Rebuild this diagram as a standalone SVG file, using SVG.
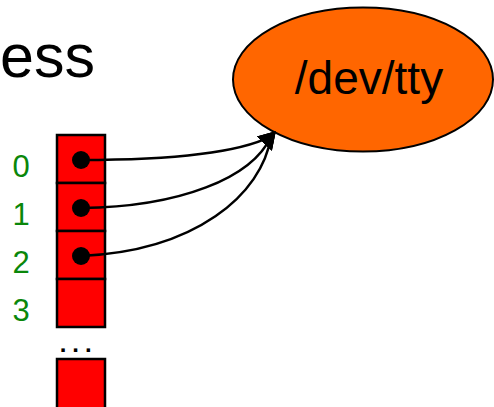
<svg xmlns="http://www.w3.org/2000/svg" width="494" height="407" viewBox="0 0 494 407">
<defs>
<style>
.txt{font-family:"Liberation Sans",Arial,sans-serif;}
.cell{fill:#FF0000;stroke:#000;stroke-width:2.5;}
.dot{fill:#000;}
.idx{font-family:"Liberation Sans",Arial,sans-serif;font-size:31px;fill:#0A870A;text-anchor:middle;}
.conn{fill:none;stroke:#000;stroke-width:2.5;}
</style>
<marker id="ah" viewBox="0 0 17 21" refX="10" refY="10.5" markerWidth="17" markerHeight="21" markerUnits="userSpaceOnUse" orient="-47">
<path d="M0,0 L17,10.5 L0,21 z" fill="#000"/>
</marker>
</defs>
<rect width="494" height="407" fill="#fff"/>
<g id="title"><text class="txt" x="0" y="77" font-size="61">ess</text></g>
<g id="tty">
<ellipse cx="363" cy="79.5" rx="130" ry="72" fill="#FF6600" stroke="#000" stroke-width="2"/>
<text class="txt" x="369" y="94" font-size="46" text-anchor="middle">/dev/tty</text>
</g>
<g id="fd0"><rect class="cell" x="57" y="135" width="48" height="48"/><circle class="dot" cx="81" cy="160" r="9"/><text class="idx" x="21" y="177">0</text></g>
<g id="fd1"><rect class="cell" x="57" y="183" width="48" height="48"/><circle class="dot" cx="81" cy="208" r="9"/><text class="idx" x="21" y="225">1</text></g>
<g id="fd2"><rect class="cell" x="57" y="231" width="48" height="48"/><circle class="dot" cx="81" cy="256" r="9"/><text class="idx" x="21" y="273">2</text></g>
<g id="fd3"><rect class="cell" x="57" y="279" width="48" height="48"/><text class="idx" x="21" y="321">3</text></g>
<g id="ellipsis"><text class="txt" x="75.5" y="352" font-size="24" font-weight="bold" text-anchor="middle" letter-spacing="-0.4">. . .</text></g>
<g id="fdn"><rect class="cell" x="57" y="359" width="48" height="60"/></g>
<g id="connectors">
<path class="conn" d="M81,160 C180,160 240,152 271,136.4" marker-end="url(#ah)"/>
<path class="conn" d="M81,208 C180,207 252,178 271,136.4" marker-end="url(#ah)"/>
<path class="conn" d="M81,256 C195,251 262,195 271,136.4" marker-end="url(#ah)"/>
</g>
</svg>
